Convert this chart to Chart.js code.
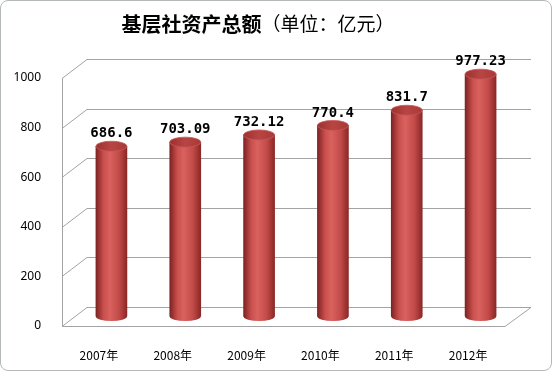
<!DOCTYPE html>
<html>
<head>
<meta charset="utf-8">
<script src="https://cdn.jsdelivr.net/npm/chart.js@4.4.1/dist/chart.umd.min.js"></script>
<style>
  html, body { margin: 0; padding: 0; background: #fff; }
  #wrap { position: relative; width: 552px; height: 371px; }
  #frame {
    position: absolute; left: 0; top: 0; width: 552px; height: 371px;
    box-sizing: border-box; border: 1px solid #b4b8b8; border-radius: 8px;
    pointer-events: none;
  }
</style>
</head>
<body>
<div id="wrap">
  <canvas id="assetChart" width="552" height="371"></canvas>
  <div id="frame"></div>
</div>
<script>
// data
const categories = ['2007年', '2008年', '2009年', '2010年', '2011年', '2012年'];
const assetValues = [686.6, 703.09, 732.12, 770.4, 831.7, 977.23];
const valueLabels = ['686.6', '703.09', '732.12', '770.4', '831.7', '977.23'];
const yTicks = [0, 200, 400, 600, 800, 1000];
const titleMain = '基层社资产总额';
const titleUnit = '（单位：亿元）';

// 3d look
const DEPTH_X = 25;
const DEPTH_Y = 19;
const BAR_W = 31;
const gridColor = '#a3a3a3';

function bodyGradient(ctx, x) {
    let g = ctx.createLinearGradient(x - BAR_W / 2, 0, x + BAR_W / 2, 0);
    g.addColorStop(0, '#7e2322');
    g.addColorStop(0.25, '#c9504e');
    g.addColorStop(0.45, '#d9615e');
    g.addColorStop(0.75, '#c24a48');
    g.addColorStop(1, '#8a2826');
    return g;
}

const wall3d = {
    id: 'wall3d',
    beforeDatasetsDraw(chart) {
        const { ctx, chartArea, scales } = chart;
        const left = chartArea.left, right = chartArea.right, bottom = chartArea.bottom;
        ctx.save();
        ctx.strokeStyle = gridColor;
        ctx.lineWidth = 1;
        // back wall + side wall lines
        yTicks.forEach(v => {
            let yF = Math.round(scales.y.getPixelForValue(v)) + 0.5;
            ctx.beginPath();
            ctx.moveTo(left, yF);
            ctx.lineTo(left + DEPTH_X, yF - DEPTH_Y);
            ctx.lineTo(right + DEPTH_X + 1, yF - DEPTH_Y);
            ctx.stroke();
        });
        // front axis line + floor
        ctx.beginPath();
        ctx.moveTo(left + 0.5, scales.y.getPixelForValue(1000));
        ctx.lineTo(left + 0.5, bottom + 0.5);
        ctx.lineTo(right, bottom + 0.5);
        ctx.lineTo(right + DEPTH_X + 1, bottom + 0.5 - DEPTH_Y);
        ctx.stroke();
        ctx.restore();

        // cylinders sit in the middle of the depth
        ctx.save();
        ctx.translate(DEPTH_X / 2, -DEPTH_Y / 2);
        const meta = chart.getDatasetMeta(0);
        meta.data.forEach(bar => {
            ctx.beginPath();
            ctx.ellipse(bar.x, bar.base, BAR_W / 2, 4.5, 0, 0, Math.PI * 2);
            ctx.fillStyle = bodyGradient(ctx, bar.x);
            ctx.fill();
        });
    },
    afterDatasetsDraw(chart) {
        const { ctx } = chart;
        const meta = chart.getDatasetMeta(0);
        meta.data.forEach(bar => {
            let g = ctx.createLinearGradient(bar.x - BAR_W / 2, 0, bar.x + BAR_W / 2, 0);
            g.addColorStop(0, '#9a3230');
            g.addColorStop(0.5, '#b84543');
            g.addColorStop(1, '#a63a38');
            ctx.beginPath();
            ctx.ellipse(bar.x, bar.y, BAR_W / 2, 5, 0, 0, Math.PI * 2);
            ctx.fillStyle = g;
            ctx.fill();
            ctx.strokeStyle = '#c95856';
            ctx.lineWidth = 0.8;
            ctx.stroke();
        });
        ctx.restore();

        // value labels
        ctx.save();
        ctx.font = 'bold 14px "DejaVu Sans Mono"';
        ctx.fillStyle = '#000';
        ctx.textAlign = 'center';
        ctx.textBaseline = 'middle';
        meta.data.forEach((bar, i) => {
            ctx.fillText(valueLabels[i], bar.x + DEPTH_X / 2, bar.y - DEPTH_Y / 2 - 12.5);
        });
        ctx.restore();
    },
    afterDraw(chart) {
        const { ctx } = chart;
        ctx.save();
        ctx.fillStyle = '#000';
        ctx.textBaseline = 'middle';
        ctx.textAlign = 'left';
        let fMain = 'bold 20px "Noto Sans CJK SC"';
        let fUnit = '19px "Noto Sans CJK SC"';
        ctx.font = fMain;
        let w1 = ctx.measureText(titleMain).width;
        ctx.font = fUnit;
        let w2 = ctx.measureText(titleUnit).width;
        let x0 = 258 - (w1 + w2) / 2;
        ctx.font = fMain;
        ctx.fillText(titleMain, x0, 24);
        ctx.font = fUnit;
        ctx.fillText(titleUnit, x0 + w1, 24);
        ctx.restore();
    }
};

new Chart(document.getElementById('assetChart').getContext('2d'), {
    type: 'bar',
    data: {
        labels: categories,
        datasets: [{
            data: assetValues,
            backgroundColor: c => {
                const chart = c.chart;
                if (!chart.chartArea) return '#c24a48';
                return bodyGradient(chart.ctx, chart.scales.x.getPixelForValue(c.dataIndex));
            },
            borderWidth: 0,
            barThickness: BAR_W
        }]
    },
    options: {
        responsive: false,
        animation: false,
        layout: { padding: { left: 0, right: 47, top: 78, bottom: 0 } },
        plugins: {
            legend: { display: false },
            title: { display: false },
            tooltip: { enabled: false }
        },
        scales: {
            x: {
                grid: { display: false },
                border: { display: false },
                ticks: {
                    color: '#000',
                    padding: 14,
                    font: { family: '"Noto Sans CJK SC"', size: 12 }
                },
                afterFit: s => { s.height = 45; }
            },
            y: {
                min: 0,
                max: 1000,
                grid: { display: false },
                border: { display: false },
                ticks: {
                    stepSize: 200,
                    color: '#000',
                    padding: 13,
                    font: { family: '"Noto Sans"', size: 12 },
                    callback: v => String(v)
                },
                afterFit: s => { s.width = 62; }
            }
        }
    },
    plugins: [wall3d]
});
</script>
</body>
</html>
